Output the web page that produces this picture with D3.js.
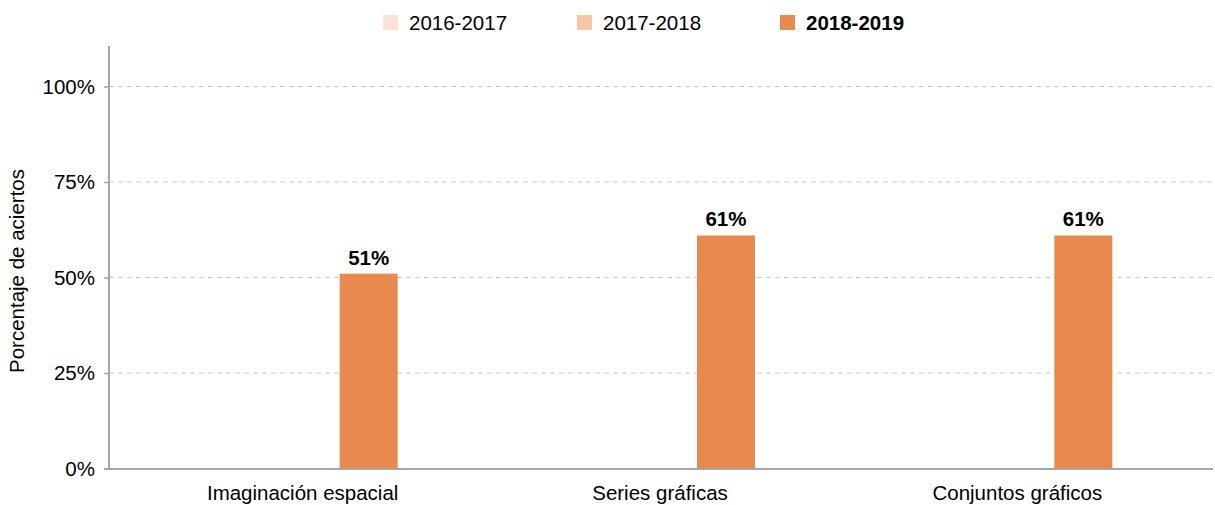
<!DOCTYPE html>
<html>
<head>
<meta charset="utf-8">
<script src="https://cdn.jsdelivr.net/npm/d3@7"></script>
<style>
  html, body { margin: 0; padding: 0; background: #fff; }
  svg { display: block; font-family: "Liberation Sans", Arial, sans-serif; }
</style>
</head>
<body>
<svg id="chart" width="1215" height="505"></svg>
<script>
// Categories and school-year series
const categories = ["Imaginación espacial", "Series gráficas", "Conjuntos gráficos"];
const seriesNames = ["2016-2017", "2017-2018", "2018-2019"];
const seriesColors = ["#fce3d5", "#f6c5a4", "#e88a4e"];
// Percentage of correct answers per series (no data for the first two years)
const values2016 = [null, null, null];
const values2017 = [null, null, null];
const values2018 = [51, 61, 61];
const yTicks = [0, 25, 50, 75, 100];

const seriesValues = [values2016, values2017, values2018];
const FONT = 20.5;

const svg = d3.select("#chart");

const y = d3.scaleLinear().domain([0, 110]).range([468.5, 48.3]);
const x0 = d3.scaleBand().domain(categories).range([124, 1196]);
const x1 = d3.scaleBand().domain(seriesNames).range([-95, 95]).paddingInner(0.121);
const color = d3.scaleOrdinal().domain(seriesNames).range(seriesColors);

// Dashed gridlines
svg.append("g")
  .selectAll("line")
  .data(yTicks)
  .join("line")
  .attr("x1", 109).attr("x2", 1213)
  .attr("y1", d => y(d)).attr("y2", d => y(d))
  .attr("stroke", "#c8c8c8")
  .attr("stroke-width", 1)
  .attr("stroke-dasharray", "5,4");

// Y axis
const yAxis = d3.axisLeft(y).tickValues(yTicks).tickFormat(d => d + "%").tickSize(5).tickPadding(9);
const gy = svg.append("g").attr("transform", "translate(109,0)").call(yAxis);
gy.select(".domain").remove();
gy.selectAll(".tick line").attr("stroke", "#a6a6a6").attr("stroke-width", 1.5);
gy.selectAll(".tick text").attr("font-size", FONT).attr("fill", "#000")
  .attr("font-family", "Liberation Sans, Arial, sans-serif");
svg.append("line")
  .attr("x1", 109).attr("x2", 109).attr("y1", 46).attr("y2", 469)
  .attr("stroke", "#a6a6a6").attr("stroke-width", 2);

// Bars
const groups = svg.append("g")
  .selectAll("g")
  .data(categories)
  .join("g")
  .attr("transform", d => `translate(${x0(d) + x0.bandwidth() / 2},0)`);

const cells = (c, i) => seriesNames.map((s, k) => ({ s, v: seriesValues[k][i] })).filter(d => d.v != null);

groups.selectAll("rect")
  .data(cells)
  .join("rect")
  .attr("x", d => x1(d.s))
  .attr("width", x1.bandwidth())
  .attr("y", d => y(d.v))
  .attr("height", d => y(0) - y(d.v))
  .attr("fill", d => color(d.s));

groups.selectAll("text.val")
  .data(cells)
  .join("text")
  .attr("class", "val")
  .attr("x", d => x1(d.s) + x1.bandwidth() / 2)
  .attr("y", d => y(d.v) - 9)
  .attr("text-anchor", "middle")
  .attr("font-size", FONT)
  .attr("font-weight", "bold")
  .attr("fill", "#000")
  .text(d => d.v + "%");

// X baseline and category labels
svg.append("line")
  .attr("x1", 104).attr("x2", 1213).attr("y1", 469).attr("y2", 469)
  .attr("stroke", "#a6a6a6").attr("stroke-width", 2);

svg.append("g")
  .selectAll("text")
  .data(categories)
  .join("text")
  .attr("x", d => x0(d) + x0.bandwidth() / 2)
  .attr("y", 500)
  .attr("text-anchor", "middle")
  .attr("font-size", FONT)
  .attr("fill", "#000")
  .text(d => d);

// Y axis title
svg.append("text")
  .attr("transform", "translate(24,271) rotate(-90)")
  .attr("text-anchor", "middle")
  .attr("font-size", FONT)
  .attr("fill", "#000")
  .text("Porcentaje de aciertos");

// Legend
const legendX = [383, 577, 780];
const legend = svg.append("g")
  .selectAll("g")
  .data(seriesNames)
  .join("g")
  .attr("transform", (d, i) => `translate(${legendX[i]},15)`);
legend.append("rect")
  .attr("width", 15).attr("height", 15)
  .attr("fill", d => color(d));
legend.append("text")
  .attr("x", 26).attr("y", 15)
  .attr("font-size", FONT)
  .attr("font-weight", (d, i) => i === seriesNames.length - 1 ? "bold" : "normal")
  .attr("fill", "#000")
  .text(d => d);
</script>
</body>
</html>
